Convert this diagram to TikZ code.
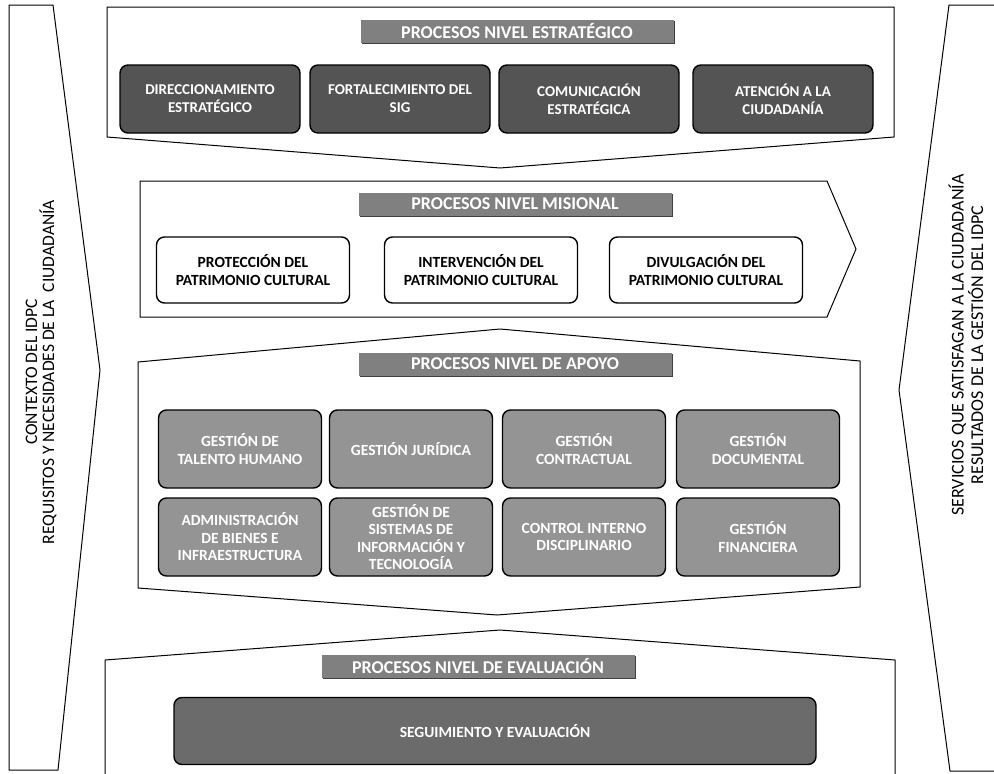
\documentclass[tikz,border=0pt]{standalone}
\usepackage{fontspec}
\setmainfont{Carlito}
\usetikzlibrary{shadows}
\definecolor{EstGray}{rgb}{0.33,0.33,0.33}
\definecolor{ApoGray}{rgb}{0.58,0.58,0.58}
\definecolor{TitGray}{rgb}{0.50,0.50,0.50}
\definecolor{EvaGray}{rgb}{0.42,0.42,0.42}

\begin{document}
\begin{tikzpicture}[x=1pt,y=-1pt,
    frame/.style={draw, line width=1pt, line join=miter},
    titlebox/.style={fill=TitGray, text=white, minimum width=313pt, minimum height=23pt, inner sep=0pt,
        drop shadow={shadow xshift=1.5pt, shadow yshift=-1.5pt, fill=black!75, opacity=1},
        font=\fontsize{18}{19}\selectfont\bfseries},
    procbox/.style={rounded corners=8pt, line width=1.4pt, align=center, inner sep=2pt,
        font=\fontsize{15}{18}\selectfont\bfseries},
    estbox/.style={procbox, draw=black, fill=EstGray, text=white, minimum width=180pt, minimum height=68pt},
    misbox/.style={procbox, draw=black, fill=white, text=black, minimum width=193pt, minimum height=66pt,
        font=\fontsize{15.5}{18}\selectfont\bfseries},
    apobox/.style={procbox, draw=black, fill=ApoGray, text=white, minimum width=163pt, minimum height=78pt,
        font=\fontsize{15.5}{17.5}\selectfont\bfseries},
    bandtext/.style={rotate=90, align=center}]
    \useasboundingbox (0,0) rectangle (994,774);

    %%Side bands
    \draw[frame] (9,5) to (53,5) to (100,370) to (58,770) to (9,770) to cycle;
    \draw[frame] (994,5) to (949,5) to (899,390) to (950,771) to (994,771);
    \node[bandtext, font=\fontsize{17.5}{17}\selectfont] (contexto) at (41,372) {CONTEXTO DEL IDPC\\REQUISITOS Y NECESIDADES DE LA\ \ CIUDADANÍA};
    \node[bandtext, font=\fontsize{18}{19.5}\selectfont] (servicios) at (966,345) {SERVICIOS QUE SATISFAGAN A LA CIUDADANÍA\\RESULTADOS DE LA GESTIÓN DEL IDPC};

    %%Nivel estrategico
    \draw[frame] (107,7) to (894,7) to (894,137) to (500,168) to (107,137) to cycle;
    \node[titlebox] (titEst) at (517,31) {PROCESOS NIVEL ESTRATÉGICO};
    \foreach \name/\x/\txt in {dir/210/{DIRECCIONAMIENTO\\ESTRATÉGICO},
                              sig/400/{FORTALECIMIENTO DEL\\SIG},
                              com/589/{COMUNICACIÓN\\ESTRATÉGICA},
                              ate/783/{ATENCIÓN A LA\\CIUDADANÍA}}
    {
    \node[estbox] (\name) at (\x,99) {\txt};
    }

    %%Nivel misional
    \draw[frame] (140,181) to (827,181) to (856,249) to (827,317) to (140,317) to cycle;
    \node[titlebox] (titMis) at (515,204) {PROCESOS NIVEL MISIONAL};
    \foreach \name/\x/\txt in {pro/253/{PROTECCIÓN DEL\\PATRIMONIO CULTURAL},
                              int/481/{INTERVENCIÓN DEL\\PATRIMONIO CULTURAL},
                              div/706/{DIVULGACIÓN DEL\\PATRIMONIO CULTURAL}}
    {
    \node[misbox] (\name) at (\x,270) {\txt};
    }

    %%Nivel de apoyo
    \draw[frame] (138,362) to (500,329) to (860,361) to (860,587) to (497,615) to (138,588) to cycle;
    \node[titlebox] (titApo) at (515,364) {PROCESOS NIVEL DE APOYO};
    \foreach \name/\x/\y/\txt in {tal/240/449/{GESTIÓN DE\\TALENTO HUMANO},
                                 jur/411/449/{GESTIÓN JURÍDICA},
                                 con/584/449/{GESTIÓN\\CONTRACTUAL},
                                 doc/758/449/{GESTIÓN\\DOCUMENTAL},
                                 adm/240/537/{ADMINISTRACIÓN\\DE BIENES E\\INFRAESTRUCTURA},
                                 sis/411/537/{GESTIÓN DE\\SISTEMAS DE\\INFORMACIÓN Y\\TECNOLOGÍA},
                                 cid/584/537/{CONTROL INTERNO\\DISCIPLINARIO},
                                 fin/758/537/{GESTIÓN\\FINANCIERA}}
    {
    \node[apobox] (\name) at (\x,\y) {\txt};
    }

    %%Nivel de evaluacion
    \draw[frame] (105,774) to (105,660) to (500,630) to (895,660) to (895,774);
    \node[titlebox] (titEva) at (478,666) {PROCESOS NIVEL DE EVALUACIÓN};
    \node[procbox, draw=black, fill=EvaGray, text=white, minimum width=642pt, minimum height=67pt,
        font=\fontsize{15.5}{18}\selectfont\bfseries] (seg) at (495,731) {SEGUIMIENTO Y EVALUACIÓN};
\end{tikzpicture}
\end{document}
